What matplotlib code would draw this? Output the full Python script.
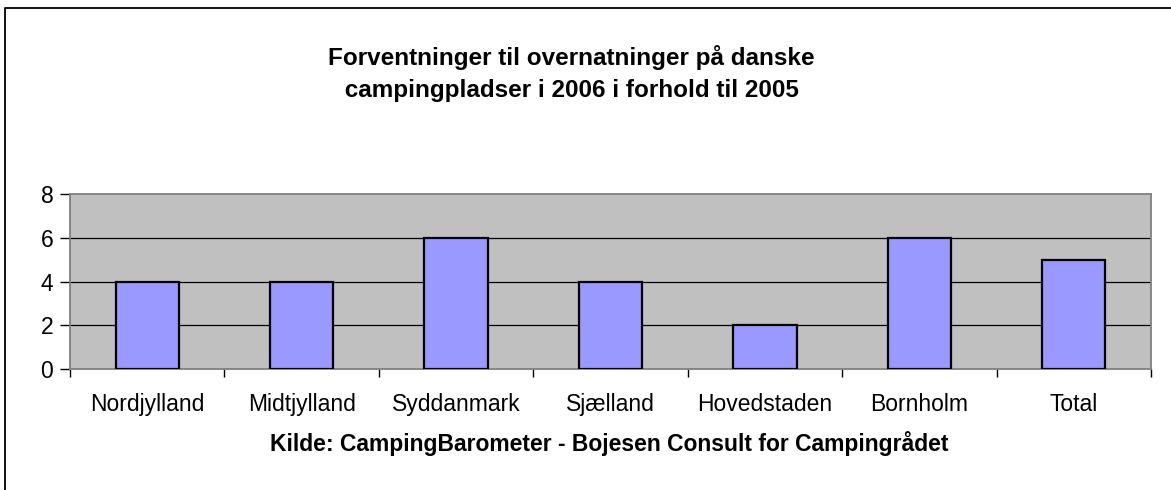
import numpy as np
import matplotlib.pyplot as plt
from matplotlib.lines import Line2D

plt.rcParams['font.family'] = ['Liberation Sans', 'DejaVu Sans']

# Data
regioner = ["Nordjylland", "Midtjylland", "Syddanmark", "Sjælland",
            "Hovedstaden", "Bornholm", "Total"]
vaerdier = [4, 4, 6, 4, 2, 6, 5]
yticks = [0, 2, 4, 6, 8]

W, H = 1171, 490
fig = plt.figure(figsize=(W / 100, H / 100), dpi=100)
fig.patch.set_facecolor("white")

# ramme (kun top og venstre side er synlig i billedet)
fig.add_artist(Line2D([4.5 / W, 4.5 / W, 1.0], [0.0, 1 - 8.5 / H, 1 - 8.5 / H],
                      transform=fig.transFigure, color="black", linewidth=1.3))

ax = fig.add_axes([70 / W, 1 - 369 / H, 1081 / W, 175 / H])
ax.set_facecolor("#C0C0C0")

x = np.arange(len(regioner))
ax.bar(x, vaerdier, width=0.41, color="#9999FF", edgecolor="black",
       linewidth=1.6, zorder=3)

ax.set_xlim(-0.5, len(regioner) - 0.5)
ax.set_ylim(0, 8)
ax.set_yticks(yticks)
ax.set_yticklabels([str(v) for v in yticks], fontsize=16.5)
for v in yticks[1:-1]:
    ax.axhline(v, color="black", linewidth=0.9, zorder=1)

ax.set_xticks(x)
ax.set_xticklabels(regioner, fontsize=16.5)
ax.tick_params(axis="x", length=0, pad=17)
ax.set_xticks(np.arange(-0.5, len(regioner)), minor=True)
ax.tick_params(axis="x", which="minor", length=6, width=1, color="black",
               direction="out")
ax.tick_params(axis="y", length=7, width=1, color="black", pad=5)

for s in ["top", "right", "left", "bottom"]:
    ax.spines[s].set_color("#808080")
    ax.spines[s].set_linewidth(1.3)

ax.set_xlabel("Kilde: CampingBarometer - Bojesen Consult for Campingrådet",
              fontsize=16.5, fontweight="bold")
ax.xaxis.set_label_coords(0.4986, (369 - 431) / 175)

fig.text(571 / W, 1 - 58 / H, "Forventninger til overnatninger på danske",
         ha="center", va="center", fontsize=17.5, fontweight="bold")
fig.text(568.5 / W, 1 - 91 / H, " campingpladser i 2006 i forhold til 2005",
         ha="center", va="center", fontsize=17.5, fontweight="bold")

fig.savefig("out.png", dpi=100)
